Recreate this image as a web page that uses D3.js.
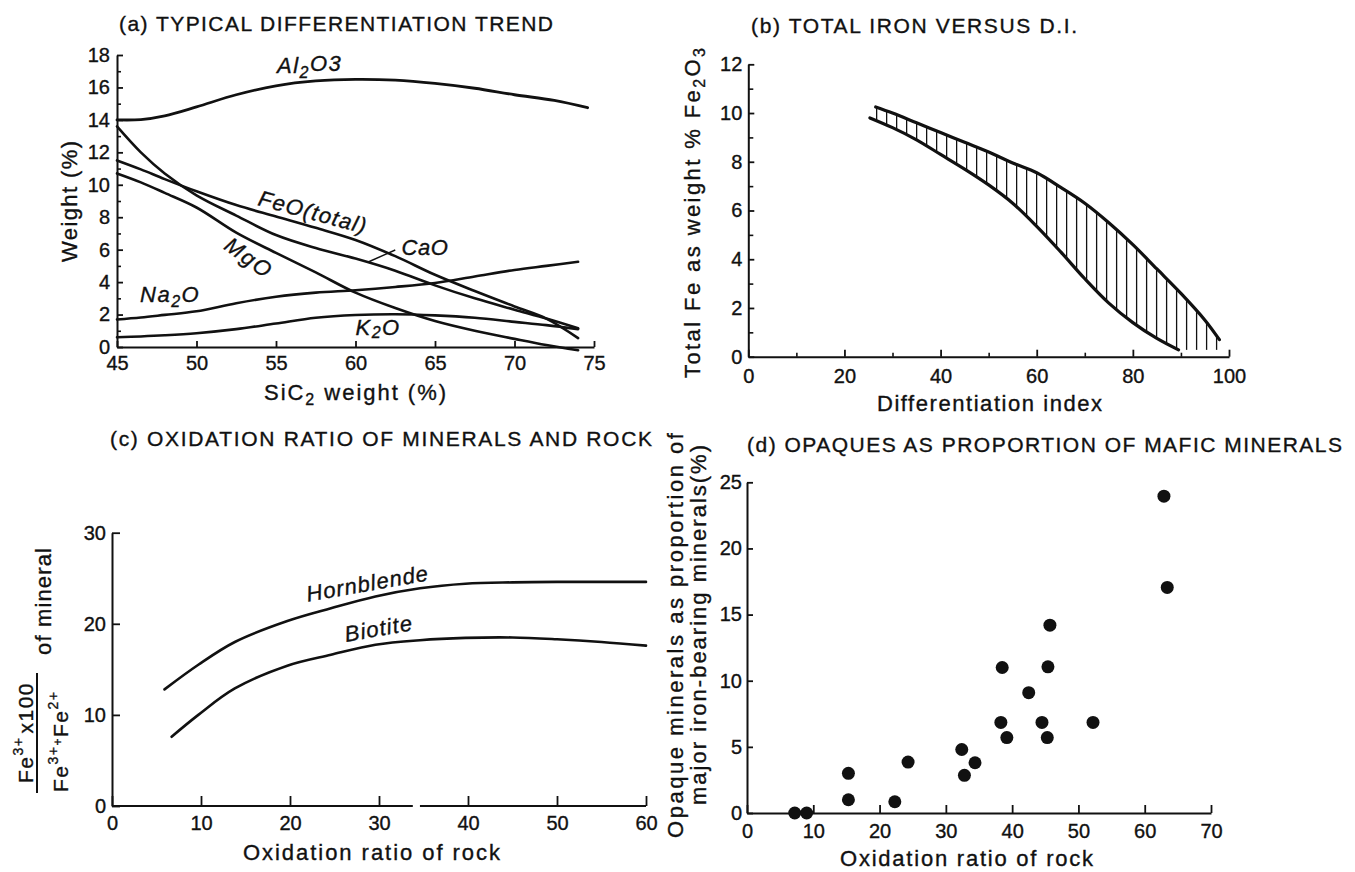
<!DOCTYPE html>
<html><head><meta charset="utf-8">
<script src="https://cdn.jsdelivr.net/npm/d3@7"></script>
<style>
body{margin:0;background:#fff;}
svg text{font-family:"Liberation Sans",Arial,Helvetica,sans-serif;fill:#111;stroke:#111;stroke-width:0.35px;}
</style></head><body>
<svg id="chart" width="1355" height="872"></svg>
<script>
// ---------- DATA ----------
// (a) typical differentiation trend (weight % vs SiO2 weight %)
const sio2 = [45,46.5,48,50,52.5,55,57.5,60,62.5,65,67.5,70,72,74];
const al2o3Si = [45,46.5,48,50,52.5,55,57.5,60,62.5,65,67.5,70,72.5,74.6];
const al2o3 = [14.0,14.02,14.25,14.8,15.55,16.1,16.4,16.5,16.45,16.25,15.95,15.55,15.2,14.75];
const cao  = [13.6,12.0,10.7,9.35,8.1,6.9,6.1,5.45,4.7,3.8,3.0,2.3,1.75,1.15];
const feo  = [11.5,10.95,10.35,9.6,8.75,8.05,7.35,6.6,5.6,4.45,3.45,2.5,1.75,0.55];
const mgo  = [10.7,10.15,9.5,8.6,7.05,5.8,4.6,3.35,2.4,1.6,1.0,0.5,0.12,-0.2];
const na2o = [1.7,1.82,1.98,2.2,2.7,3.1,3.35,3.5,3.7,3.95,4.35,4.75,5.0,5.25];
const k2o  = [0.6,0.65,0.72,0.85,1.1,1.45,1.8,1.97,2.02,1.95,1.8,1.55,1.35,1.1];
const yTicksA = [0,2,4,6,8,10,12,14,16,18];
const xTicksA = [45,50,55,60,65,70,75];

// (b) total iron versus differentiation index
const diUpper = [26.5,30,35,40,45,50,55,60,65,70,75,80,85,90,95,98];
const feUpper = [10.25,10.0,9.6,9.2,8.8,8.4,7.95,7.55,6.95,6.3,5.5,4.6,3.6,2.6,1.5,0.7];
const diLower = [25.3,30,35,40,45,50,55,60,65,70,75,80,85,89.5];
const feLower = [9.8,9.4,8.9,8.3,7.7,7.05,6.3,5.35,4.3,3.2,2.2,1.4,0.75,0.28];
const yTicksB = [0,2,4,6,8,10,12];
const xTicksB = [0,20,40,60,80,100];

// (c) oxidation ratio of minerals and rock
const hornX = [5.9,9.7,13.8,19.7,24.6,29.6,34.6,39.7,45,50,55,60];
const hornY = [12.8,15.5,18.0,20.3,21.7,23.0,23.9,24.4,24.55,24.6,24.6,24.6];
const bioX  = [6.7,9.7,13.8,19.7,24.6,29.6,34.6,39.7,45,50,55,60];
const bioY  = [7.6,10.0,12.9,15.4,16.6,17.7,18.2,18.45,18.5,18.3,18.0,17.6];
const yTicksC = [0,10,20,30];
const xTicksC = [0,10,20,30,40,50,60];

// (d) opaques as proportion of mafic minerals
const oxRock = [7.2,9.0,15.3,15.3,22.3,24.3,32.4,32.8,34.4,38.3,38.5,39.2,42.5,44.5,45.3,45.4,45.7,52.2,62.9,63.4];
const opaque = [0,0,3.0,1.0,0.85,3.85,4.8,2.85,3.8,6.85,11.0,5.7,9.1,6.85,5.7,11.05,14.2,6.85,23.95,17.05];
const yTicksD = [0,5,10,15,20,25];
const xTicksD = [0,10,20,30,40,50,60,70];

// ---------- DRAWING ----------
const FONT = '"Liberation Sans", Arial, Helvetica, sans-serif';
const INK = "#111";
const svg = d3.select("#chart");

function styleAxis(g, fs){
  g.attr("font-family", FONT).attr("font-size", fs);
  g.select(".domain").attr("stroke", INK).attr("stroke-width", 2);
  g.selectAll(".tick line").attr("stroke", INK).attr("stroke-width", 1.8);
  g.selectAll(".tick text").attr("fill", INK);
}
function minorAxis(g){
  g.select(".domain").remove();
  g.selectAll(".tick line").attr("stroke", INK).attr("stroke-width", 1.6);
}
function curve(g, xs, ys, xS, yS, w){
  const pts = xs.map((x,i)=>[x, ys[i]]);
  return g.append("path")
    .attr("d", d3.line().x(d=>xS(d[0])).y(d=>yS(d[1])).curve(d3.curveCatmullRom.alpha(0.5))(pts))
    .attr("fill","none").attr("stroke",INK).attr("stroke-width",w)
    .attr("stroke-linecap","round").attr("stroke-linejoin","round");
}
function title(txt, x, y, len){
  svg.append("text").attr("x",x).attr("y",y).attr("font-size",21)
    .attr("textLength",len).attr("lengthAdjust","spacing").text(txt);
}
function plainText(x, y, txt, len, rot){
  const t = svg.append("text").attr("font-size",22)
    .attr("textLength",len).attr("lengthAdjust","spacing").text(txt);
  if (rot) t.attr("transform",`rotate(${rot})`);
  return t.attr("x",x).attr("y",y);
}

// ===== Panel (a) =====
const xA = d3.scaleLinear().domain([45,75]).range([117,594]);
const yA = d3.scaleLinear().domain([0,18]).range([347,55]);
const gA = svg.append("g");
styleAxis(gA.append("g").attr("transform","translate(117,0)")
  .call(d3.axisLeft(yA).tickValues(yTicksA).tickSizeInner(-6).tickSizeOuter(0).tickPadding(7).tickFormat(d3.format("d"))), 20);
minorAxis(gA.append("g").attr("transform","translate(117,0)")
  .call(d3.axisLeft(yA).tickValues(d3.range(1,18,2)).tickSizeInner(-4).tickSizeOuter(0).tickFormat("")));
styleAxis(gA.append("g").attr("transform","translate(0,347)")
  .call(d3.axisBottom(xA).tickValues(xTicksA).tickSizeInner(-6).tickSizeOuter(0).tickPadding(9).tickFormat(d3.format("d"))), 20);

curve(gA, al2o3Si, al2o3, xA, yA, 2.8);
[cao, feo, mgo, na2o, k2o].forEach(s => curve(gA, sio2, s, xA, yA, 2.6));

function lab(g, x, y, parts, rot, anchor, fs, ls){
  const t = g.append("text")
    .attr("transform", `translate(${x},${y}) rotate(${rot||0})`)
    .attr("font-size", fs||22).attr("font-style","italic")
    .attr("text-anchor", anchor||"start").attr("letter-spacing", ls||0);
  parts.forEach(p => {
    const s = t.append("tspan").text(p[0]);
    if (p[1]) s.attr("dy", p[1]);
    if (p[2]) s.attr("font-size", p[2]);
  });
  return t;
}
lab(gA, xA(55.06), yA(16.9), [["Al"],["2",5,16],["O3",-7]], 0, "start", 22, 1.5);
lab(gA, xA(53.8), yA(8.75), [["FeO(total)"]], 15, "start", 22, 1.3);
lab(gA, xA(62.9), yA(5.67), [["CaO"]], 0, "start", 22, 0.5);
lab(gA, xA(53.3), yA(5.5), [["MgO"]], 36, "middle", 22, 2).attr("dy","0.35em");
lab(gA, xA(46.45), yA(2.77), [["Na"],["2",5,16],["O",-5]], 0, "start", 22, 1.5);
lab(gA, xA(60.0), yA(0.74), [["K"],["2",3,16],["O",-3]], 0, "start", 22, 1.5);
gA.append("line").attr("x1",xA(60.8)).attr("y1",yA(5.24)).attr("x2",xA(62.5)).attr("y2",yA(5.98))
  .attr("stroke",INK).attr("stroke-width",1.4);

title("(a) TYPICAL DIFFERENTIATION TREND", 119, 31, 434);
plainText(-262, 77, "Weight (%)", 121, -90);
{
  const t = svg.append("text").attr("x",264).attr("y",400).attr("font-size",22)
    .attr("textLength",182).attr("lengthAdjust","spacing");
  t.append("tspan").text("SiC");
  t.append("tspan").text("2").attr("dy",5).attr("font-size",16);
  t.append("tspan").text(" weight (%)").attr("dy",-5);
}

// ===== Panel (b) =====
const xB = d3.scaleLinear().domain([0,100]).range([748.3,1229]);
const yB = d3.scaleLinear().domain([0,12]).range([356.7,64.3]);
const gB = svg.append("g");
styleAxis(gB.append("g").attr("transform",`translate(${xB(0)},0)`)
  .call(d3.axisLeft(yB).tickValues(yTicksB).tickSizeInner(-6).tickSizeOuter(0).tickPadding(6).tickFormat(d3.format("d"))), 20);
minorAxis(gB.append("g").attr("transform",`translate(${xB(0)},0)`)
  .call(d3.axisLeft(yB).tickValues(d3.range(1,12,2)).tickSizeInner(-5).tickSizeOuter(0).tickFormat("")));
styleAxis(gB.append("g").attr("transform",`translate(0,${yB(0)})`)
  .call(d3.axisBottom(xB).tickValues(xTicksB).tickSizeInner(-7).tickSizeOuter(0).tickPadding(12).tickFormat(d3.format("d"))), 20);
minorAxis(gB.append("g").attr("transform",`translate(0,${yB(0)})`)
  .call(d3.axisBottom(xB).tickValues(d3.range(10,100,20)).tickSizeInner(-4).tickSizeOuter(0).tickFormat("")));

const upP = curve(gB, diUpper, feUpper, xB, yB, 3.2).node();
const loP = curve(gB, diLower, feLower, xB, yB, 3.2).node();
function yAtX(node, px){
  let lo = 0, hi = node.getTotalLength();
  for (let i=0;i<40;i++){ const m=(lo+hi)/2; if (node.getPointAtLength(m).x < px) lo=m; else hi=m; }
  return node.getPointAtLength((lo+hi)/2).y;
}
const lowerEnd = diLower[diLower.length-1];
const hatch = d3.range(26.7, diUpper[diUpper.length-1], 2.08);
gB.append("g").selectAll("line").data(hatch).join("line")
  .attr("x1", d=>xB(d)).attr("x2", d=>xB(d))
  .attr("y1", d=>yAtX(upP, xB(d)))
  .attr("y2", d=> d <= lowerEnd ? yAtX(loP, xB(d)) : yB(feLower[feLower.length-1]))
  .attr("stroke", INK).attr("stroke-width", 1.3);

title("(b) TOTAL IRON VERSUS D.I.", 751, 33, 326);
{
  const t = svg.append("text").attr("transform","rotate(-90)").attr("x",-378).attr("y",700)
    .attr("font-size",22).attr("textLength",330).attr("lengthAdjust","spacing");
  t.append("tspan").text("Total Fe as weight % Fe");
  t.append("tspan").text("2").attr("dy",5).attr("font-size",16);
  t.append("tspan").text("O").attr("dy",-5);
  t.append("tspan").text("3").attr("dy",5).attr("font-size",16);
}
plainText(877, 411, "Differentiation index", 225);

// ===== Panel (c) =====
const xC = d3.scaleLinear().domain([0,60]).range([112,646]);
const yC = d3.scaleLinear().domain([0,30]).range([806,532.7]);
const gC = svg.append("g");
styleAxis(gC.append("g").attr("transform",`translate(${xC(0)},0)`)
  .call(d3.axisLeft(yC).tickValues(yTicksC).tickSizeInner(-8).tickSizeOuter(0).tickPadding(6).tickFormat(d3.format("d"))), 20);
const axC = gC.append("g").attr("transform",`translate(0,${yC(0)})`)
  .call(d3.axisBottom(xC).tickValues(xTicksC).tickSizeInner(-10).tickSizeOuter(0).tickPadding(10).tickFormat(d3.format("d")));
styleAxis(axC, 20);
axC.select(".domain").remove();
[[0,33.8],[34.6,60]].forEach(s => gC.append("line")
  .attr("x1",xC(s[0])).attr("x2",xC(s[1])).attr("y1",yC(0)).attr("y2",yC(0))
  .attr("stroke",INK).attr("stroke-width",2));
curve(gC, hornX, hornY, xC, yC, 2.6);
curve(gC, bioX, bioY, xC, yC, 2.6);
gC.append("text").attr("transform",`translate(${xC(28.8)},${yC(23.6)}) rotate(-10)`)
  .attr("text-anchor","middle").attr("font-size",22).attr("font-style","italic")
  .attr("textLength",123).attr("lengthAdjust","spacing").text("Hornblende");
gC.append("text").attr("transform",`translate(${xC(30.06)},${yC(18.66)}) rotate(-10)`)
  .attr("text-anchor","middle").attr("font-size",22).attr("font-style","italic")
  .attr("textLength",68).attr("lengthAdjust","spacing").text("Biotite");

title("(c) OXIDATION RATIO OF MINERALS AND ROCK", 110, 446, 542);
plainText(243, 860, "Oxidation ratio of rock", 257);
{
  const g = svg.append("g").attr("transform","rotate(-90)");
  const num = g.append("text").attr("x",-783).attr("y",33).attr("font-size",21).attr("letter-spacing",1.5);
  num.append("tspan").text("Fe");
  num.append("tspan").text("3+").attr("dy",-10).attr("font-size",14);
  num.append("tspan").text("x100").attr("dy",10).attr("dx",3);
  g.append("line").attr("x1",-793).attr("x2",-673).attr("y1",37).attr("y2",37)
    .attr("stroke",INK).attr("stroke-width",2);
  const den = g.append("text").attr("x",-792).attr("y",68).attr("font-size",21).attr("letter-spacing",1.5);
  den.append("tspan").text("Fe");
  den.append("tspan").text("3+").attr("dy",-10).attr("font-size",14);
  den.append("tspan").text("+").attr("dy",4).attr("font-size",12);
  den.append("tspan").text("Fe").attr("dy",6);
  den.append("tspan").text("2+").attr("dy",-10).attr("font-size",14);
  g.append("text").attr("x",-655).attr("y",51).attr("font-size",22)
    .attr("textLength",107).attr("lengthAdjust","spacing").text("of mineral");
}

// ===== Panel (d) =====
const xD = d3.scaleLinear().domain([0,70]).range([747,1211]);
const yD = d3.scaleLinear().domain([0,25]).range([813,482.3]);
const gD = svg.append("g");
styleAxis(gD.append("g").attr("transform",`translate(${xD(0)},0)`)
  .call(d3.axisLeft(yD).tickValues(yTicksD).tickSizeInner(-6).tickSizeOuter(0).tickPadding(5).tickFormat(d3.format("d"))), 20);
styleAxis(gD.append("g").attr("transform",`translate(0,${yD(0)})`)
  .call(d3.axisBottom(xD).tickValues(xTicksD).tickSizeInner(-8).tickSizeOuter(0).tickPadding(11).tickFormat(d3.format("d"))), 20);
gD.append("g").selectAll("circle").data(oxRock.map((x,i)=>[x,opaque[i]])).join("circle")
  .attr("cx", d=>xD(d[0])).attr("cy", d=>yD(d[1])).attr("r", 6.5).attr("fill", INK);

title("(d) OPAQUES AS PROPORTION OF MAFIC MINERALS", 747, 452, 595);
plainText(840, 866, "Oxidation ratio of rock", 253);
plainText(-838, 683, "Opaque minerals as proportion of", 405, -90);
plainText(-805, 706, "major iron-bearing minerals(%)", 360, -90);
</script>
</body></html>
